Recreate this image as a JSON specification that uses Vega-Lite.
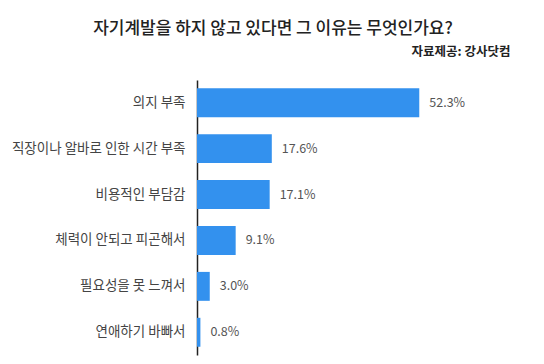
{
  "$schema": "https://vega.github.io/schema/vega-lite/v6.json",
  "autosize": "none",
  "width": 340,
  "height": 275,
  "padding": {"left": 197, "top": 80, "right": 7, "bottom": 9},
  "background": "white",
  "title": {
    "text": "자기계발을 하지 않고 있다면 그 이유는 무엇인가요?",
    "anchor": "middle",
    "frame": "group",
    "dx": -94,
    "offset": 7,
    "font": "Noto Sans CJK KR",
    "fontSize": 17,
    "fontWeight": 500,
    "color": "#222222"
  },
  "config": {
    "view": {"stroke": null},
    "font": "Noto Sans CJK KR"
  },
  "data": {
    "values": [
      {"reason": "의지 부족", "share": 0.523},
      {"reason": "직장이나 알바로 인한 시간 부족", "share": 0.176},
      {"reason": "비용적인 부담감", "share": 0.171},
      {"reason": "체력이 안되고 피곤해서", "share": 0.091},
      {"reason": "필요성을 못 느껴서", "share": 0.030},
      {"reason": "연애하기 바빠서", "share": 0.008}
    ]
  },
  "encoding": {
    "y": {
      "field": "reason",
      "type": "nominal",
      "sort": null,
      "scale": {"paddingInner": 0.37, "paddingOuter": 0.18},
      "axis": {
        "title": null,
        "ticks": false,
        "labelPadding": 12,
        "labelLimit": 0,
        "labelFontSize": 13.5,
        "labelColor": "#444444",
        "labelFont": "Noto Sans CJK KR",
        "domainColor": "#222222",
        "domainWidth": 1.5
      }
    },
    "x": {
      "field": "share",
      "type": "quantitative",
      "scale": {"domain": [0, 0.8], "nice": false},
      "axis": {
        "orient": "top",
        "title": "자료제공: 강사닷컴",
        "titleFont": "Noto Sans CJK KR",
        "titleFontSize": 12.5,
        "titleFontWeight": "bold",
        "titleColor": "#222222",
        "titleAnchor": "end",
        "titleX": 313,
        "titlePadding": 22,
        "labels": false,
        "ticks": false,
        "domain": false,
        "grid": false
      }
    }
  },
  "layer": [
    {
      "mark": {"type": "bar", "color": "#3391ee"}
    },
    {
      "mark": {"type": "text", "align": "left", "dx": 10, "fontSize": 12.5, "color": "#555555", "font": "Noto Sans CJK KR"},
      "encoding": {
        "text": {"field": "share", "type": "quantitative", "format": ".1%"}
      }
    }
  ]
}
